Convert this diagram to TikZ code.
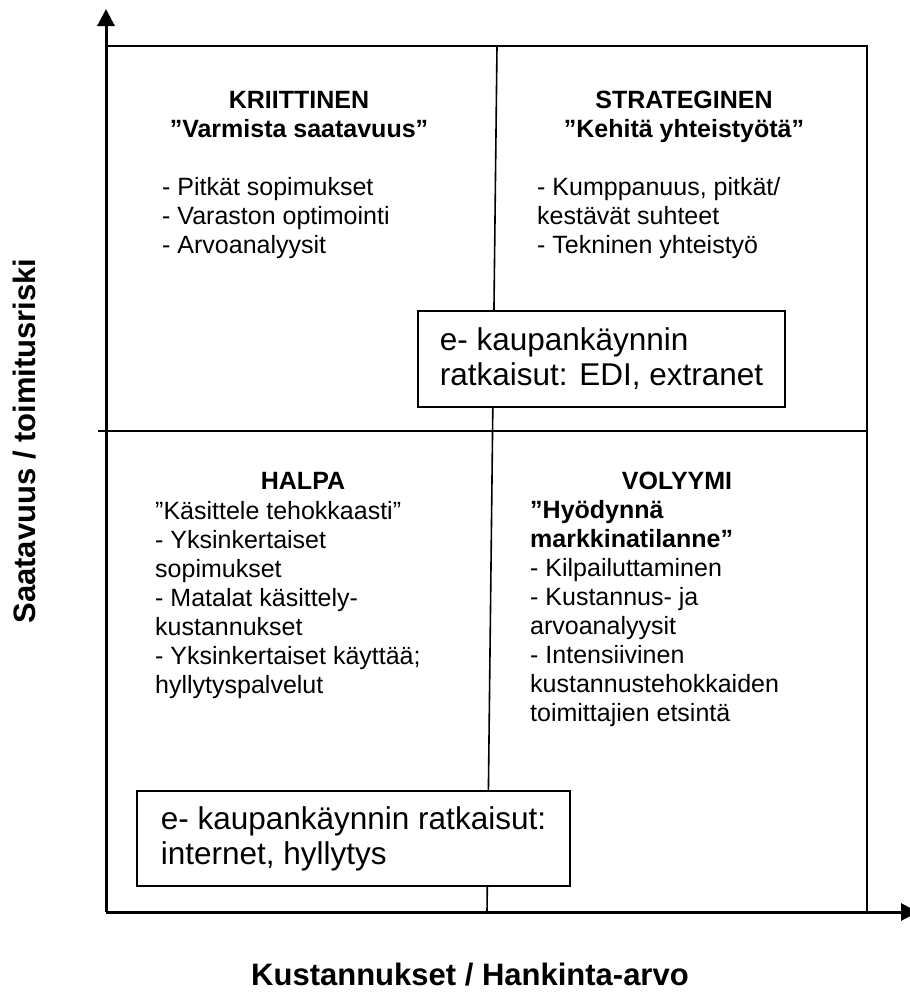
\documentclass[tikz,border=0pt]{standalone}
\usepackage{fontspec}
\setmainfont{Liberation Sans}
\usetikzlibrary{arrows.meta}
\begin{document}
\begin{tikzpicture}[x=1pt,y=-1pt,
  qhead/.style={font=\fontsize{25}{29}\selectfont\bfseries,align=center,anchor=north,inner sep=0pt},
  qlist/.style={font=\fontsize{25}{29}\selectfont,align=left,anchor=north west,inner sep=0pt},
  ebox/.style={draw,line width=2pt,fill=white,align=left,inner sep=0pt,
    font=\fontsize{31.5}{35}\selectfont},
  axis/.style={line width=3pt,-{Triangle[length=17pt,width=17pt]}},
  frame/.style={line width=2pt},
  alabel/.style={font=\fontsize{31}{35}\selectfont\bfseries,inner sep=0pt}]
\useasboundingbox (0,0) rectangle (910,1001);
% frame corners
\coordinate (orig) at (106,912);
\coordinate (ytip) at (106,9);
\coordinate (xtip) at (918,912);
\coordinate (tl) at (106,46);
\coordinate (tr) at (867,46);
\coordinate (br) at (867,912);
\coordinate (ml) at (98,431);
\coordinate (mr) at (867,431);
\coordinate (dtop) at (497,46);
\coordinate (dbot) at (487,912);
% quadrant frame
\draw[frame] (tl) -- (tr) -- (br);
\draw[frame] (ml) -- (mr);
\draw[line width=1.6pt] (dtop) -- (dbot);
% quadrant texts
\node[qhead] (krit) at (299,91) {KRIITTINEN\\”Varmista saatavuus”};
\node[qlist] (kritlist) at (162,177) {- Pitkät sopimukset\\- Varaston optimointi\\- Arvoanalyysit};
\node[qhead] (strat) at (684,91) {STRATEGINEN\\”Kehitä yhteistyötä”};
\node[qlist] (stratlist) at (537,177) {- Kumppanuus, pitkät/\\kestävät suhteet\\- Tekninen yhteistyö};
\node[qhead] (halpa) at (303,472) {HALPA};
\node[qlist] (halpalist) at (155,501) {”Käsittele tehokkaasti”\\- Yksinkertaiset\\sopimukset\\- Matalat käsittely-\\kustannukset\\- Yksinkertaiset käyttää;\\hyllytyspalvelut};
\node[qhead] (volyymi) at (677,472) {VOLYYMI};
\node[qlist] (volyymilist) at (530,500) {\textbf{”Hyödynnä}\\\textbf{markkinatilanne”}\\- Kilpailuttaminen\\- Kustannus- ja\\arvoanalyysit\\- Intensiivinen\\kustannustehokkaiden\\toimittajien etsintä};
% e-business boxes
\node[ebox,minimum width=367pt,minimum height=96pt] (ekaup1) at (601.5,359) {e- kaupankäynnin\\ratkaisut: EDI, extranet};
\node[ebox,minimum width=433pt,minimum height=95pt] (ekaup2) at (353.5,838.5) {e- kaupankäynnin ratkaisut:\\internet, hyllytys};
% axes
\draw[axis] (orig) -- (ytip);
\draw[axis] (orig) -- (xtip);
\node[alabel] (xlab) at (470,975) {Kustannukset / Hankinta-arvo};
\node[alabel,rotate=90] (ylab) at (25,441) {Saatavuus / toimitusriski};
\end{tikzpicture}
\end{document}
